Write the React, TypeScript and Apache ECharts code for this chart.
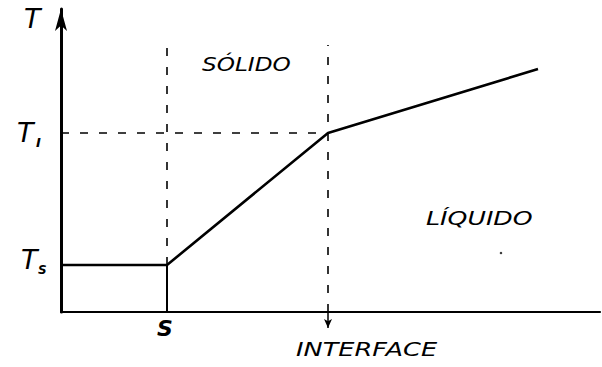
import React, { useEffect, useRef } from "react";
import * as echarts from "echarts";

// Positions along the (unitless) distance axis and temperature axis
const xS = 106;
const xInterface = 267;
const xEnd = 477;
const tS = 47;
const tI = 179;
const tEnd = 243;
const xMax = 539;
const yMax = 303;
const dashTop = 267;
const arrowDrop = -16;

const profileX = [0, xS, xInterface, xEnd];
const profileT = [tS, tS, tI, tEnd];

const FONT = "'DejaVu Sans', sans-serif";

export default function App() {
  const ref = useRef<HTMLDivElement>(null);
  useEffect(() => {
    if (!ref.current) return;
    const chart = echarts.init(ref.current, null, { renderer: "svg" });
    const dash = { color: "#000", width: 1.6, type: [8, 11] as number[] };
    chart.setOption({
      animation: false,
      backgroundColor: "#fff",
      grid: { left: 61, top: 9, right: 2, bottom: 55 },
      xAxis: {
        type: "value",
        min: 0,
        max: xMax,
        axisLine: { lineStyle: { color: "#000", width: 2.2 } },
        axisTick: { show: false },
        axisLabel: { show: false },
        splitLine: { show: false },
      },
      yAxis: {
        type: "value",
        min: 0,
        max: yMax,
        axisLine: {
          onZero: false,
          symbol: ["none", "arrow"],
          symbolSize: [9, 22],
          lineStyle: { color: "#000", width: 3 },
        },
        axisTick: { show: false },
        axisLabel: { show: false },
        splitLine: { show: false },
      },
      series: [
        {
          type: "line",
          data: profileX.map((x, i) => [x, profileT[i]]),
          symbol: "none",
          lineStyle: { color: "#000", width: 2.6 },
          z: 5,
        },
        {
          type: "line",
          data: [[xS, 0], [xS, tS]],
          symbol: "none",
          lineStyle: { color: "#000", width: 2 },
        },
        {
          type: "line",
          data: [[xS, tS], [xS, dashTop]],
          symbol: "none",
          lineStyle: dash,
        },
        {
          type: "line",
          data: [[xInterface, 0], [xInterface, dashTop]],
          symbol: "none",
          lineStyle: dash,
        },
        {
          type: "line",
          data: [[0, tI], [xInterface, tI]],
          symbol: "none",
          lineStyle: dash,
        },
        {
          type: "line",
          clip: false,
          showSymbol: true,
          data: [
            { value: [xInterface, 0], symbol: "none" },
            { value: [xInterface, arrowDrop], symbol: "arrow", symbolRotate: 180, symbolSize: [6, 9] },
          ],
          itemStyle: { color: "#000" },
          lineStyle: { color: "#000", width: 1.5 },
        },
        {
          type: "scatter",
          data: [[440, 59]],
          symbolSize: 2.5,
          itemStyle: { color: "#000" },
        },
      ],
      graphic: [
        { type: "text", left: 24, top: 5, style: { text: "T", font: `italic 27px ${FONT}`, fill: "#000" } },
        { type: "text", left: 17, top: 119, style: { text: "T", font: `italic 27px ${FONT}`, fill: "#000" } },
        { type: "text", left: 36, top: 136, style: { text: "I", font: `italic bold 13px ${FONT}`, fill: "#000" } },
        { type: "text", left: 21, top: 246, style: { text: "T", font: `italic 27px ${FONT}`, fill: "#000" } },
        { type: "text", left: 38, top: 264, style: { text: "S", font: `italic bold 12px ${FONT}`, fill: "#000" } },
        { type: "text", left: 157, top: 317, style: { text: "S", font: `italic bold 22px ${FONT}`, fill: "#000" } },
        { type: "text", x: 202, y: 55, scaleX: 1.22, style: { text: "SÓLIDO", font: `italic 19px ${FONT}`, fill: "#000" } },
        { type: "text", x: 426, y: 209, scaleX: 1.33, style: { text: "LÍQUIDO", font: `italic 19px ${FONT}`, fill: "#000" } },
        { type: "text", x: 296, y: 339, scaleX: 1.28, style: { text: "INTERFACE", font: `italic 20px ${FONT}`, fill: "#000" } },
      ],
    });
    return () => chart.dispose();
  }, []);
  return <div ref={ref} style={{ width: 602, height: 367, position: "absolute", left: 0, top: 0 }} />;
}
